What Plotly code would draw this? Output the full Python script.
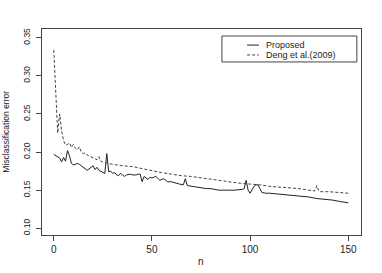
import plotly.graph_objects as go

prop_n = [0,1,2,3,4,5,6,7,8,9,10,11,12,13,14,15,16,17,18,19,20,21,22,23,24,25,26,27,28,29,30,
          31,32,33,34,35,36,37,38,39,40,41,42,43,44,45,46,47,48,49,50,52,54,56,58,60,62,64,66,67,
          68,70,72,74,76,78,80,84,88,92,96,97,98,99,100,101,102,103,104,105,106,108,110,114,118,
          122,126,130,134,138,142,146,150]
prop_err = [0.197,0.195,0.194,0.192,0.187,0.193,0.188,0.202,0.195,0.185,0.183,0.184,0.185,0.184,
            0.182,0.180,0.179,0.176,0.178,0.180,0.182,0.177,0.180,0.176,0.175,0.174,0.172,0.198,
            0.174,0.175,0.172,0.173,0.170,0.169,0.172,0.170,0.168,0.170,0.171,0.171,0.170,0.170,
            0.170,0.171,0.171,0.161,0.168,0.166,0.164,0.167,0.166,0.168,0.163,0.165,0.161,0.161,
            0.159,0.158,0.157,0.165,0.156,0.155,0.155,0.154,0.153,0.152,0.152,0.150,0.150,0.150,
            0.151,0.152,0.163,0.150,0.146,0.150,0.155,0.157,0.157,0.152,0.147,0.146,0.146,0.145,
            0.144,0.1425,0.142,0.141,0.139,0.138,0.137,0.135,0.1335]

deng_n = [0,1,2,3,4,5,6,7,8,9,10,11,12,13,14,15,16,17,18,19,20,21,22,23,24,25,26,27,28,30,32,
          35,40,45,50,55,60,65,70,75,79,80,85,90,95,100,105,110,115,120,125,130,133,134,135,136,
          140,145,150]
deng_err = [0.334,0.270,0.225,0.250,0.228,0.215,0.209,0.210,0.212,0.206,0.210,0.205,0.203,0.207,
            0.200,0.198,0.199,0.196,0.195,0.194,0.193,0.192,0.190,0.194,0.188,0.187,0.186,0.185,
            0.185,0.184,0.183,0.182,0.181,0.178,0.176,0.173,0.171,0.169,0.168,0.166,0.165,0.164,
            0.162,0.160,0.159,0.158,0.157,0.155,0.154,0.153,0.152,0.150,0.149,0.156,0.149,0.148,
            0.148,0.147,0.146]

series_names = ["Proposed", "Deng et al.(2009)"]
x_ticks = [0, 50, 100, 150]
y_ticks = [0.10, 0.15, 0.20, 0.25, 0.30, 0.35]
y_tick_text = ["0.10", "0.15", "0.20", "0.25", "0.30", "0.35"]

font = "Liberation Sans, Arial, sans-serif"
solid_style = dict(color="#222222", width=1)
dash_style = dict(color="#444444", width=1, dash="3px,2px")

fig = go.Figure()
fig.add_trace(go.Scatter(x=prop_n, y=prop_err, mode="lines", name=series_names[0],
                         line=solid_style, showlegend=False))
fig.add_trace(go.Scatter(x=deng_n, y=deng_err, mode="lines", name=series_names[1],
                         line=dash_style, showlegend=False))

# Legend drawn as an inset box (R style)
fig.add_shape(type="rect", xref="paper", yref="paper", x0=0.564, x1=0.987, y0=0.840, y1=0.966,
              line=dict(color="#444444", width=1), fillcolor="white")
rows_y = [0.922, 0.874]
styles = [solid_style, dash_style]
for name, ry, st in zip(series_names, rows_y, styles):
    fig.add_shape(type="line", xref="paper", yref="paper", x0=0.643, x1=0.680, y0=ry, y1=ry,
                  line=st)
    fig.add_annotation(text=name, xref="paper", yref="paper", x=0.696, y=ry,
                       xanchor="left", yanchor="middle", showarrow=False,
                       font=dict(size=9, family=font, color="#222222"))

# Axis titles
fig.add_annotation(text="n", xref="paper", yref="paper", x=0.498, y=-0.131,
                   xanchor="center", yanchor="middle", showarrow=False,
                   font=dict(size=10, family=font, color="#222222"))
fig.add_annotation(text="Misclassification error", xref="paper", yref="paper", x=-0.114, y=0.5,
                   xanchor="center", yanchor="middle", textangle=-90, showarrow=False,
                   font=dict(size=8.5, family=font, color="#222222"))

fig.update_layout(
    width=382, height=273,
    margin=dict(l=42, r=21, t=29, b=38),
    paper_bgcolor="white", plot_bgcolor="white",
    font=dict(family=font, size=10, color="#222222"),
    showlegend=False,
    xaxis=dict(range=[-6, 156.5], tickvals=x_ticks, ticks="outside", ticklen=5,
               tickcolor="#444444", showline=True, linecolor="#444444", linewidth=1,
               mirror=True, showgrid=False, zeroline=False, automargin=False,
               tickfont=dict(size=10)),
    yaxis=dict(range=[0.0912, 0.3614], tickvals=y_ticks, ticktext=y_tick_text,
               ticks="outside", ticklen=5, tickcolor="#444444", tickangle=-90,
               ticklabelstandoff=3, automargin=False,
               showline=True, linecolor="#444444", linewidth=1, mirror=True,
               showgrid=False, zeroline=False,
               tickfont=dict(size=8.5)),
)

fig.write_html("out.html", config={"displayModeBar": False},
               post_script="document.body.style.margin='0';")
